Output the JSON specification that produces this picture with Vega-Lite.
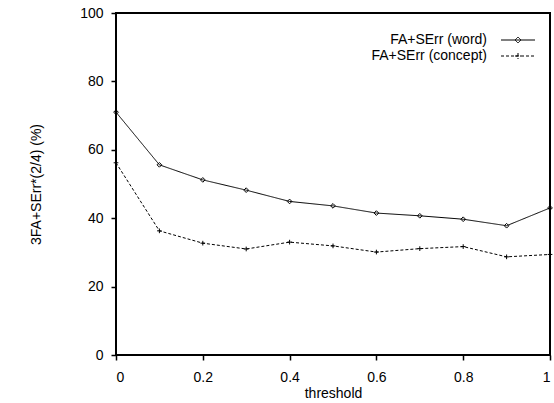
{
  "$schema": "https://vega.github.io/schema/vega-lite/v6.json",
  "width": 434,
  "height": 342,
  "autosize": {"type": "none"},
  "padding": {"left": 116, "top": 13, "right": 4, "bottom": 48},
  "background": "white",
  "config": {
    "view": {"stroke": "black", "strokeWidth": 2},
    "font": "Liberation Sans",
    "axis": {
      "domain": false,
      "grid": false,
      "tickColor": "black",
      "tickWidth": 1.5,
      "labelColor": "black",
      "labelFontSize": 14,
      "labelFont": "Liberation Sans",
      "titleFont": "Liberation Sans",
      "titleFontSize": 14,
      "titleFontWeight": "normal",
      "titleColor": "black"
    }
  },
  "data": {
    "values": [
      {"threshold": 0.0, "value": 71.0, "series": "FA+SErr (word)"},
      {"threshold": 0.1, "value": 55.6, "series": "FA+SErr (word)"},
      {"threshold": 0.2, "value": 51.2, "series": "FA+SErr (word)"},
      {"threshold": 0.3, "value": 48.2, "series": "FA+SErr (word)"},
      {"threshold": 0.4, "value": 44.9, "series": "FA+SErr (word)"},
      {"threshold": 0.5, "value": 43.6, "series": "FA+SErr (word)"},
      {"threshold": 0.6, "value": 41.5, "series": "FA+SErr (word)"},
      {"threshold": 0.7, "value": 40.7, "series": "FA+SErr (word)"},
      {"threshold": 0.8, "value": 39.7, "series": "FA+SErr (word)"},
      {"threshold": 0.9, "value": 37.8, "series": "FA+SErr (word)"},
      {"threshold": 1.0, "value": 43.0, "series": "FA+SErr (word)"},
      {"threshold": 0.0, "value": 56.2, "series": "FA+SErr (concept)"},
      {"threshold": 0.1, "value": 36.3, "series": "FA+SErr (concept)"},
      {"threshold": 0.2, "value": 32.7, "series": "FA+SErr (concept)"},
      {"threshold": 0.3, "value": 31.0, "series": "FA+SErr (concept)"},
      {"threshold": 0.4, "value": 33.0, "series": "FA+SErr (concept)"},
      {"threshold": 0.5, "value": 31.9, "series": "FA+SErr (concept)"},
      {"threshold": 0.6, "value": 30.1, "series": "FA+SErr (concept)"},
      {"threshold": 0.7, "value": 31.1, "series": "FA+SErr (concept)"},
      {"threshold": 0.8, "value": 31.7, "series": "FA+SErr (concept)"},
      {"threshold": 0.9, "value": 28.7, "series": "FA+SErr (concept)"},
      {"threshold": 1.0, "value": 29.4, "series": "FA+SErr (concept)"}
    ]
  },
  "resolve": {"axis": {"x": "independent", "y": "independent"}},
  "layer": [
    {
      "mark": {"type": "line", "color": "black", "strokeWidth": 1},
      "encoding": {
        "x": {
          "field": "threshold", "type": "quantitative",
          "scale": {"domain": [0, 1], "nice": false},
          "axis": {"orient": "bottom", "title": "threshold", "values": [0, 0.2, 0.4, 0.6, 0.8, 1], "format": "~g", "ticks": true, "tickSize": 5, "labelPadding": 10, "titlePadding": 2}
        },
        "y": {
          "field": "value", "type": "quantitative",
          "scale": {"domain": [0, 100], "nice": false},
          "axis": {"orient": "left", "title": "3FA+SErr*(2/4) (%)", "values": [0, 20, 40, 60, 80, 100], "ticks": true, "tickSize": 5, "labelPadding": 8, "titlePadding": 36}
        },
        "strokeDash": {
          "field": "series", "type": "nominal",
          "scale": {"domain": ["FA+SErr (word)", "FA+SErr (concept)"], "range": [[1, 0], [3, 2]]},
          "legend": {
            "title": null,
            "orient": "none",
            "legendX": 395,
            "legendY": 20,
            "labelFontSize": 14,
            "labelFont": "Liberation Sans",
            "labelColor": "black",
            "labelAlign": "right",
            "labelOffset": -38,
            "symbolSize": 100,
            "symbolStrokeColor": "black",
            "symbolStrokeWidth": 1,
            "rowPadding": 2,
            "encode": {
              "symbols": {
                "update": {
                  "shape": {"signal": "datum.value === 'FA+SErr (word)' ? 'M-3.4,0H3.4M0,-0.6L0.6,0L0,0.6L-0.6,0Z' : 'M-3.4,0H3.4M0,-0.6V0.6M-0.6,0H0.6'"},
                  "fill": {"value": "transparent"},
                  "stroke": {"value": "black"}
                }
              }
            }
          }
        }
      }
    },
    {
      "transform": [{"filter": "datum.series === 'FA+SErr (word)'"}],
      "mark": {"type": "point", "shape": "diamond", "filled": false, "color": "black", "strokeWidth": 1, "size": 22, "opacity": 1},
      "encoding": {
        "x": {"field": "threshold", "type": "quantitative", "axis": null},
        "y": {"field": "value", "type": "quantitative", "axis": null}
      }
    },
    {
      "transform": [{"filter": "datum.series === 'FA+SErr (concept)'"}],
      "mark": {"type": "point", "shape": "M-1,0H1M0,-1V1", "filled": false, "color": "black", "strokeWidth": 1, "size": 22, "opacity": 1},
      "encoding": {
        "x": {"field": "threshold", "type": "quantitative", "axis": null},
        "y": {"field": "value", "type": "quantitative", "axis": null}
      }
    }
  ]
}
